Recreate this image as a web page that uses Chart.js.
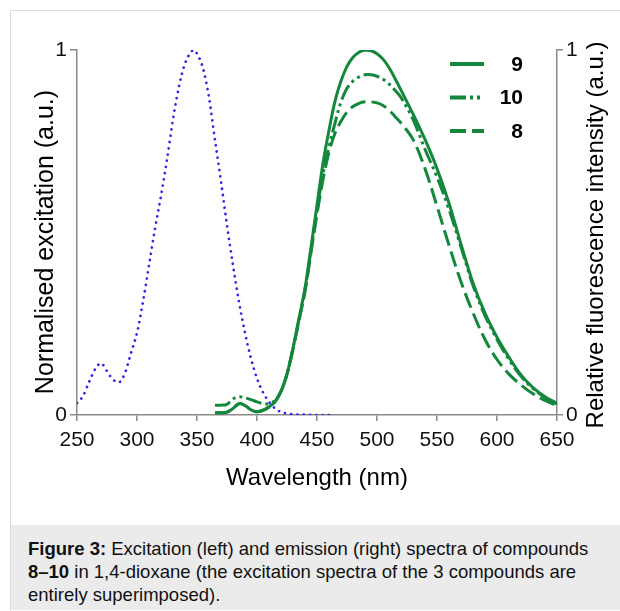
<!DOCTYPE html>
<html>
<head>
<meta charset="utf-8">
<script src="https://cdn.jsdelivr.net/npm/chart.js@4.4.0/dist/chart.umd.min.js"></script>
<style>
  html, body { margin: 0; padding: 0; background: #fff; }
  body { width: 620px; height: 611px; position: relative; overflow: hidden; font-family: "Liberation Sans", Arial, sans-serif; }
  #frame { position: absolute; left: 10px; top: 10px; right: 0; bottom: 0; border-top: 1px solid #dcdcdc; border-left: 1px solid #dcdcdc; }
  #chart { position: absolute; left: 0; top: 0; }
  #caption { position: absolute; left: 11px; top: 525px; width: 609px; height: 85px; box-sizing: border-box; background: #ebebeb; padding: 12px 0 0 17px; font-size: 18.5px; line-height: 23px; color: #111; white-space: nowrap; }
</style>
</head>
<body>
<div id="frame"></div>
<canvas id="chart" width="620" height="525"></canvas>
<div id="caption"><b>Figure 3:</b> Excitation (left) and emission (right) spectra of compounds<br><b>8–10</b> in 1,4-dioxane (the excitation spectra of the 3 compounds are<br>entirely superimposed).</div>
<script>
// excitation spectrum (same for all 3 compounds), left axis
const excitationNm = [250, 255, 260, 265, 270, 275, 280, 285, 290, 295, 300, 305, 310, 315, 320, 325, 330, 335, 340, 345, 347,
  350, 355, 360, 365, 370, 375, 380, 385, 390, 395, 400, 405, 410, 415, 420, 425, 430, 440, 450, 465];
const excitation = [0.033, 0.052, 0.09, 0.125, 0.142, 0.12, 0.097, 0.09, 0.115, 0.17, 0.225, 0.31, 0.41, 0.51, 0.6, 0.7, 0.81, 0.9, 0.963, 0.994, 1.0,
  0.99, 0.95, 0.87, 0.753, 0.64, 0.52, 0.41, 0.31, 0.225, 0.155, 0.1, 0.062, 0.036, 0.018, 0.008, 0.004, 0.002, 0.001, 0, 0];

// emission spectra, right axis
const emissionNm = [365, 370, 375, 380, 385, 390, 395, 400, 405, 410, 415, 420, 425, 430, 435, 440, 445, 450, 455, 460,
  465, 470, 475, 480, 485, 490, 495, 500, 505, 510, 515, 520, 530, 540, 550, 560, 570, 580, 590, 600,
  610, 620, 630, 640, 650];
const emission9 = [0.006, 0.006, 0.008, 0.018, 0.031, 0.026, 0.014, 0.009, 0.013, 0.022, 0.036, 0.065, 0.112, 0.183, 0.265, 0.347, 0.46, 0.575, 0.69, 0.78,
  0.86, 0.915, 0.955, 0.98, 0.994, 1.0, 0.998, 0.99, 0.975, 0.952, 0.922, 0.89, 0.825, 0.755, 0.675, 0.58, 0.468, 0.362, 0.279, 0.213,
  0.158, 0.11, 0.075, 0.05, 0.032];
const emission10 = [0.027, 0.027, 0.029, 0.044, 0.05, 0.047, 0.042, 0.036, 0.031, 0.031, 0.04, 0.065, 0.112, 0.183, 0.262, 0.343, 0.452, 0.562, 0.66, 0.735,
  0.8, 0.858, 0.895, 0.915, 0.926, 0.932, 0.932, 0.928, 0.92, 0.907, 0.89, 0.87, 0.81, 0.728, 0.652, 0.563, 0.46, 0.355, 0.272, 0.207,
  0.152, 0.106, 0.072, 0.048, 0.03];
const emission8 = [0.006, 0.006, 0.008, 0.018, 0.031, 0.026, 0.014, 0.009, 0.013, 0.022, 0.036, 0.065, 0.112, 0.18, 0.258, 0.338, 0.445, 0.55, 0.645, 0.72,
  0.772, 0.805, 0.83, 0.845, 0.854, 0.858, 0.858, 0.855, 0.848, 0.835, 0.818, 0.8, 0.755, 0.675, 0.572, 0.465, 0.365, 0.28, 0.207, 0.152,
  0.112, 0.082, 0.058, 0.04, 0.026];

const seriesLabels = ["9", "10", "8"];
const xTitle = "Wavelength (nm)";
const yTitleLeft = "Normalised excitation (a.u.)";
const yTitleRight = "Relative fluorescence intensity (a.u.)";

const GREEN = "#14873d";
const BLUE = "#3a26e0";
const AXIS = "#8a8a8a";
const FONT = '"Liberation Sans", Arial, sans-serif';

const pts = (xs, ys) => xs.map((x, i) => ({ x: x, y: ys[i] }));

// y titles drawn by hand: the right one reads bottom-to-top
const sideTitles = {
  id: "sideTitles",
  afterDraw(chart) {
    const ctx = chart.ctx;
    ctx.save();
    ctx.fillStyle = "#000";
    ctx.textAlign = "center";
    ctx.textBaseline = "alphabetic";
    ctx.font = "25px " + FONT;
    ctx.translate(53, 242);
    ctx.rotate(-Math.PI / 2);
    ctx.fillText(yTitleLeft, 0, 0);
    ctx.restore();
    ctx.save();
    ctx.fillStyle = "#000";
    ctx.textAlign = "center";
    ctx.textBaseline = "alphabetic";
    ctx.font = "24px " + FONT;
    ctx.translate(603, 235);
    ctx.rotate(-Math.PI / 2);
    ctx.fillText(yTitleRight, 0, 0);
    ctx.restore();
  },
};

// legend: line sample on the left, bold label right-aligned
const lineLegend = {
  id: "lineLegend",
  afterDraw(chart) {
    const ctx = chart.ctx;
    const rows = [64, 97.5, 131];
    chart.data.datasets.slice(1).forEach((ds, i) => {
      const y = rows[i];
      ctx.save();
      ctx.strokeStyle = ds.borderColor;
      ctx.lineWidth = 4;
      ctx.setLineDash(ds.borderDash || []);
      ctx.beginPath();
      ctx.moveTo(450, y);
      ctx.lineTo(484, y);
      ctx.stroke();
      ctx.restore();
      ctx.save();
      ctx.fillStyle = "#000";
      ctx.font = "bold 21px " + FONT;
      ctx.textAlign = "right";
      ctx.textBaseline = "middle";
      ctx.fillText(ds.label, 523, y + 1);
      ctx.restore();
    });
  },
};

new Chart(document.getElementById("chart"), {
  type: "line",
  data: {
    datasets: [
      {
        label: "excitation",
        data: pts(excitationNm, excitation),
        yAxisID: "y",
        borderColor: BLUE,
        borderWidth: 2.7,
        borderDash: [0.1, 6.2],
        borderCapStyle: "round",
        pointRadius: 0,
        cubicInterpolationMode: "monotone",
      },
      {
        label: seriesLabels[0],
        data: pts(emissionNm, emission9),
        yAxisID: "y2",
        borderColor: GREEN,
        borderWidth: 3,
        pointRadius: 0,
        tension: 0.35,
      },
      {
        label: seriesLabels[1],
        data: pts(emissionNm, emission10),
        yAxisID: "y2",
        borderColor: GREEN,
        borderWidth: 3,
        borderDash: [16, 4, 3, 4, 3, 4],
        pointRadius: 0,
        tension: 0.35,
      },
      {
        label: seriesLabels[2],
        data: pts(emissionNm, emission8),
        yAxisID: "y2",
        borderColor: GREEN,
        borderWidth: 3,
        borderDash: [16, 6],
        pointRadius: 0,
        tension: 0.35,
      },
    ],
  },
  options: {
    responsive: false,
    animation: false,
    events: [],
    layout: { padding: { top: 50, left: 0, right: 0, bottom: 0 } },
    plugins: { legend: { display: false }, tooltip: { enabled: false } },
    scales: {
      x: {
        type: "linear",
        min: 250,
        max: 650,
        afterFit: (s) => { s.height = 110; },
        ticks: { stepSize: 50, color: "#111", font: { size: 21, family: FONT }, padding: 7, maxRotation: 0, autoSkip: false },
        grid: { display: true, drawOnChartArea: false, drawTicks: true, tickLength: 6, color: AXIS, lineWidth: 1.5 },
        border: { display: true, color: AXIS, width: 1.5 },
        title: { display: true, text: xTitle, color: "#000", font: { size: 24, family: FONT }, padding: { top: 0, bottom: 32 } },
      },
      y: {
        position: "left",
        min: 0,
        max: 1,
        afterFit: (s) => { s.width = 77; },
        ticks: { stepSize: 1, color: "#111", font: { size: 21, family: FONT }, padding: 3 },
        grid: { display: true, drawOnChartArea: false, drawTicks: true, tickLength: 7, color: AXIS, lineWidth: 1.5 },
        border: { display: true, color: AXIS, width: 1.5 },
      },
      y2: {
        position: "right",
        min: 0,
        max: 1,
        afterFit: (s) => { s.width = 63; },
        ticks: { stepSize: 1, color: "#111", font: { size: 21, family: FONT }, padding: 3 },
        grid: { display: true, drawOnChartArea: false, drawTicks: true, tickLength: 6, color: AXIS, lineWidth: 1.5 },
        border: { display: true, color: AXIS, width: 1.5 },
      },
    },
  },
  plugins: [sideTitles, lineLegend],
});
</script>
</body>
</html>
